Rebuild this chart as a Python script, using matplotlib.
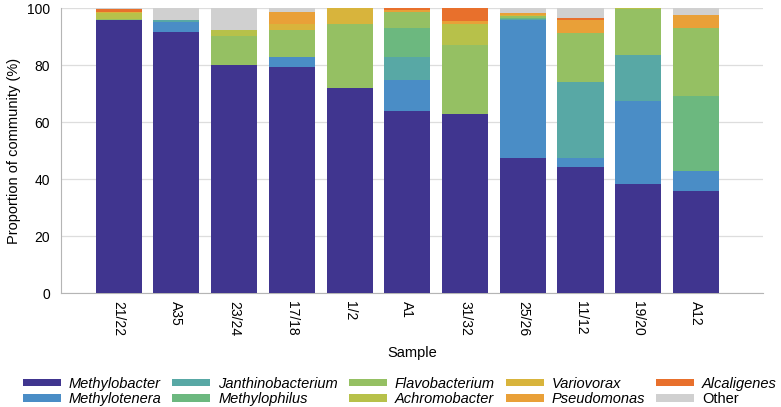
import matplotlib.pyplot as plt
import numpy as np

plt.rcParams['font.family'] = ['Liberation Sans', 'DejaVu Sans']

samples = ['21/22', 'A35', '23/24', '17/18', '1/2', 'A1', '31/32', '25/26', '11/12', '19/20', 'A12']

# percent of community, bottom to top of each stack
methylobacter = [95.8, 91.7, 80.0, 79.4, 71.8, 64.0, 63.0, 47.3, 44.1, 38.1, 35.8]
methylotenera = [0, 3.5, 0, 3.3, 0, 10.7, 0, 48.5, 3.2, 29.3, 7.1]
janthinobacterium = [0, 0.8, 0, 0, 0, 8.0, 0, 0.4, 26.9, 16.3, 0]
methylophilus = [0, 0, 0, 0, 0, 10.5, 0, 0.3, 0, 0, 26.2]
flavobacterium = [0.4, 0, 10.2, 9.8, 22.6, 5.5, 24.0, 0.6, 17.2, 16.0, 24.0]
achromobacter = [2.0, 0, 2.3, 0, 0, 0, 7.6, 0, 0, 0.3, 0]
variovorax = [0.3, 0, 0, 2.1, 5.6, 0, 0, 0.6, 0, 0, 0]
pseudomonas = [0.3, 0, 0, 4.1, 0, 0.8, 0.9, 0.5, 4.4, 0, 4.4]
alcaligenes = [0.8, 0, 0, 0, 0, 0.5, 4.5, 0, 0.9, 0, 0]
other = [0.4, 4.0, 7.5, 1.3, 0, 0, 0, 1.8, 3.3, 0, 2.5]

taxa = ['Methylobacter', 'Methylotenera', 'Janthinobacterium', 'Methylophilus',
        'Flavobacterium', 'Achromobacter', 'Variovorax', 'Pseudomonas',
        'Alcaligenes', 'Other']
series = [methylobacter, methylotenera, janthinobacterium, methylophilus,
          flavobacterium, achromobacter, variovorax, pseudomonas, alcaligenes, other]
colors = ['#40358f', '#4a8dc6', '#58a8a5', '#6cb87f', '#95c063',
          '#b7c14a', '#d8b43c', '#e9a038', '#e8702c', '#d0d0d0']

fig = plt.figure(figsize=(7.81, 4.07), dpi=100)
ax = fig.add_axes([0.078, 0.28, 0.899, 0.70])

x = np.arange(len(samples))
bottom = np.zeros(len(samples))
for name, vals, c in zip(taxa, series, colors):
    vals = np.array(vals)
    ax.bar(x, vals, width=0.8, bottom=bottom, color=c, label=name, zorder=3)
    bottom += vals

ax.set_xlim(-1.0, 11.16)
ax.set_ylim(0, 100)
ax.set_yticks(range(0, 101, 20))
ax.set_xticks(x)
ax.set_xticklabels(samples, rotation=270, fontsize=10)
ax.tick_params(axis='y', length=0, labelsize=10, pad=8)
ax.tick_params(axis='x', length=0, pad=6)
ax.grid(axis='y', color='#dddddd', linewidth=0.9, zorder=0)
for s in ['top', 'right']:
    ax.spines[s].set_visible(False)
for s in ['left', 'bottom']:
    ax.spines[s].set_color('#b5b5b5')
ax.set_ylabel('Proportion of community (%)', fontsize=10.5)
ax.set_xlabel('Sample', fontsize=10.5, labelpad=7)

handles, labels = ax.get_legend_handles_labels()
leg = fig.legend(handles, labels, ncol=5, loc='lower center',
                 bbox_to_anchor=(0.512, -0.03), frameon=False, fontsize=10.5,
                 handlelength=2.6, handleheight=0.4, columnspacing=0.75,
                 handletextpad=0.55, labelspacing=0.1)
for t in leg.get_texts():
    if t.get_text() != 'Other':
        t.set_style('italic')

fig.savefig('out.png', dpi=100)
